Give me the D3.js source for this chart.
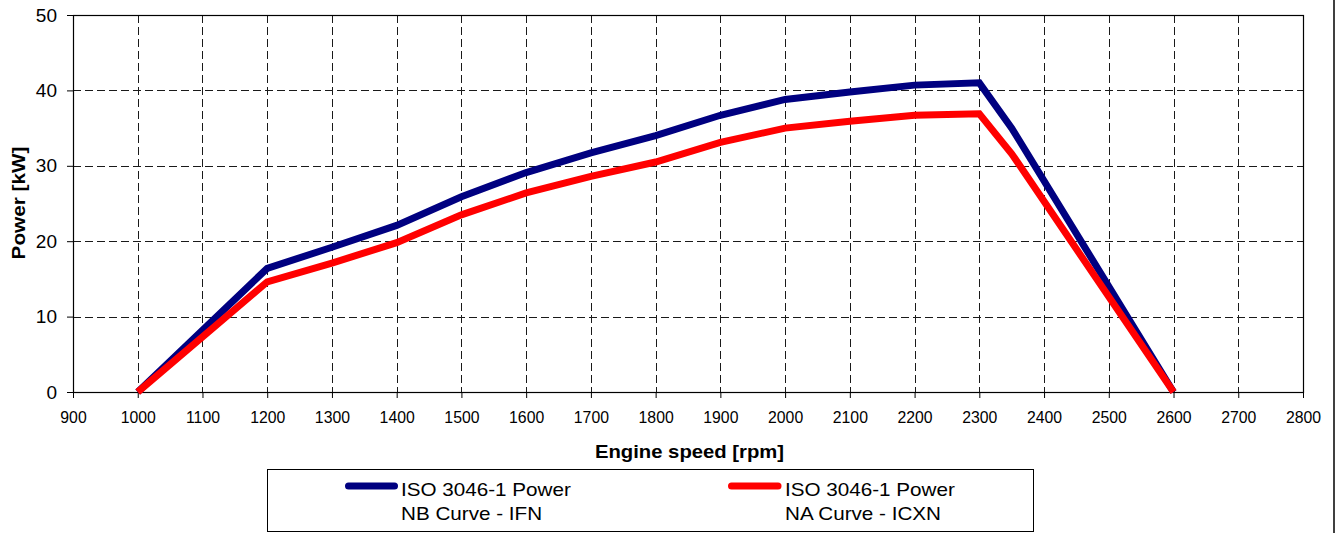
<!DOCTYPE html>
<html>
<head>
<meta charset="utf-8">
<script src="https://cdn.jsdelivr.net/npm/d3@7"></script>
<style>
  html, body { margin: 0; padding: 0; background: #fff; }
  svg { display: block; font-family: "Liberation Sans", Arial, sans-serif; }
</style>
</head>
<body>
<svg id="chart" width="1337" height="533"></svg>
<script>
// ---- data ----
const rpm = [1000, 1200, 1300, 1400, 1500, 1600, 1700, 1800, 1900, 2000, 2100, 2200, 2300, 2350, 2600];
const powerNB = [0, 16.4, 19.2, 22.1, 25.9, 29.1, 31.7, 34.0, 36.7, 38.8, 39.8, 40.7, 41.0, 35.0, 0];
const powerNA = [0, 14.6, 17.1, 19.8, 23.5, 26.4, 28.6, 30.5, 33.1, 35.0, 35.9, 36.7, 36.9, 31.6, 0];
const xTicks = [900, 1000, 1100, 1200, 1300, 1400, 1500, 1600, 1700, 1800, 1900, 2000, 2100, 2200, 2300, 2400, 2500, 2600, 2700, 2800];
const yTicks = [0, 10, 20, 30, 40, 50];
const seriesNames = [["ISO 3046-1 Power", "NB Curve - IFN"], ["ISO 3046-1 Power", "NA Curve - ICXN"]];
const seriesColors = ["#000080", "#FF0000"];
const xTitle = "Engine speed [rpm]";
const yTitle = "Power [kW]";

// ---- layout ----
const L = 73, R = 1303, T = 15, B = 392;
const svg = d3.select("#chart");

const x = d3.scaleLinear().domain([900, 2800]).range([L, R]);
const y = d3.scaleLinear().domain([0, 50]).range([B, T]);

// outer right border of chart area
svg.append("line").attr("x1", 1334).attr("x2", 1334).attr("y1", 0).attr("y2", 533)
  .attr("stroke", "#000").attr("stroke-width", 1.5);

// grid
const grid = svg.append("g").attr("stroke", "#1a1a1a").attr("stroke-width", 1)
  .attr("stroke-dasharray", "8,4").attr("shape-rendering", "crispEdges");
grid.selectAll("line.v").data(xTicks.filter(d => d > 900 && d < 2800)).join("line")
  .attr("class", "v").attr("x1", d => Math.round(x(d)) + 0.5).attr("x2", d => Math.round(x(d)) + 0.5)
  .attr("y1", T).attr("y2", B);
grid.selectAll("line.h").data(yTicks.filter(d => d > 0 && d < 50)).join("line")
  .attr("class", "h").attr("y1", d => Math.round(y(d)) + 0.5).attr("y2", d => Math.round(y(d)) + 0.5)
  .attr("x1", L).attr("x2", R);

// plot border
svg.append("rect").attr("x", L + 0.5).attr("y", T + 0.5).attr("width", R - L).attr("height", B - T)
  .attr("fill", "none").attr("stroke", "#000").attr("stroke-width", 1.2);

// axes
const xAxis = svg.append("g").attr("transform", `translate(0,${B})`)
  .call(d3.axisBottom(x).tickValues(xTicks).tickSize(6).tickPadding(13).tickFormat(d3.format("d")));
xAxis.select(".domain").remove();
xAxis.selectAll("line").attr("stroke", "#000");
xAxis.selectAll("text").attr("font-size", "17px").attr("fill", "#000")
  .attr("font-family", "'Liberation Sans', Arial, sans-serif").attr("transform", "scale(0.93,1)");

const yAxis = svg.append("g").attr("transform", `translate(${L},0)`)
  .call(d3.axisLeft(y).tickValues(yTicks).tickSize(6).tickPadding(10).tickFormat(d3.format("d")));
yAxis.select(".domain").remove();
yAxis.selectAll("line").attr("stroke", "#000");
yAxis.selectAll("text").attr("font-size", "19px").attr("fill", "#000")
  .attr("font-family", "'Liberation Sans', Arial, sans-serif");

// lines
const line = d3.line().x((d, i) => x(rpm[i])).y(d => y(d));
[powerNB, powerNA].forEach((vals, k) => {
  svg.append("path").datum(vals).attr("d", line)
    .attr("fill", "none").attr("stroke", seriesColors[k]).attr("stroke-width", 7)
    .attr("stroke-linejoin", "miter").attr("stroke-linecap", "butt");
});

// helper for scaled text
function scaledText(tx, ty, str, size, sx, opts = {}) {
  const g = svg.append("g").attr("transform", `translate(${tx},${ty})${opts.rotate ? " rotate(" + opts.rotate + ")" : ""} scale(${sx},1)`);
  return g.append("text").attr("x", 0).attr("y", 0).attr("font-size", size + "px")
    .attr("font-weight", opts.bold ? "bold" : "normal").attr("text-anchor", opts.anchor || "start")
    .attr("fill", "#000").text(str);
}

// axis titles
scaledText(689.5, 458.3, xTitle, 18.6, 1.09, { bold: true, anchor: "middle" });
scaledText(25, 203, yTitle, 18.6, 1.115, { bold: true, anchor: "middle", rotate: -90 });

// legend
svg.append("rect").attr("x", 267.5).attr("y", 469.5).attr("width", 766).attr("height", 62)
  .attr("fill", "#fff").attr("stroke", "#000").attr("stroke-width", 1);
const legendX = [{ line: [348.5, 394.5], text: 401 }, { line: [731.5, 778], text: 785 }];
seriesNames.forEach((names, k) => {
  const p = legendX[k];
  svg.append("line").attr("x1", p.line[0]).attr("x2", p.line[1]).attr("y1", 486).attr("y2", 486)
    .attr("stroke", seriesColors[k]).attr("stroke-width", 7).attr("stroke-linecap", "round");
  scaledText(p.text, 496, names[0], 18, 1.148);
  scaledText(p.text, 520, names[1], 18, 1.148);
});
</script>
</body>
</html>
